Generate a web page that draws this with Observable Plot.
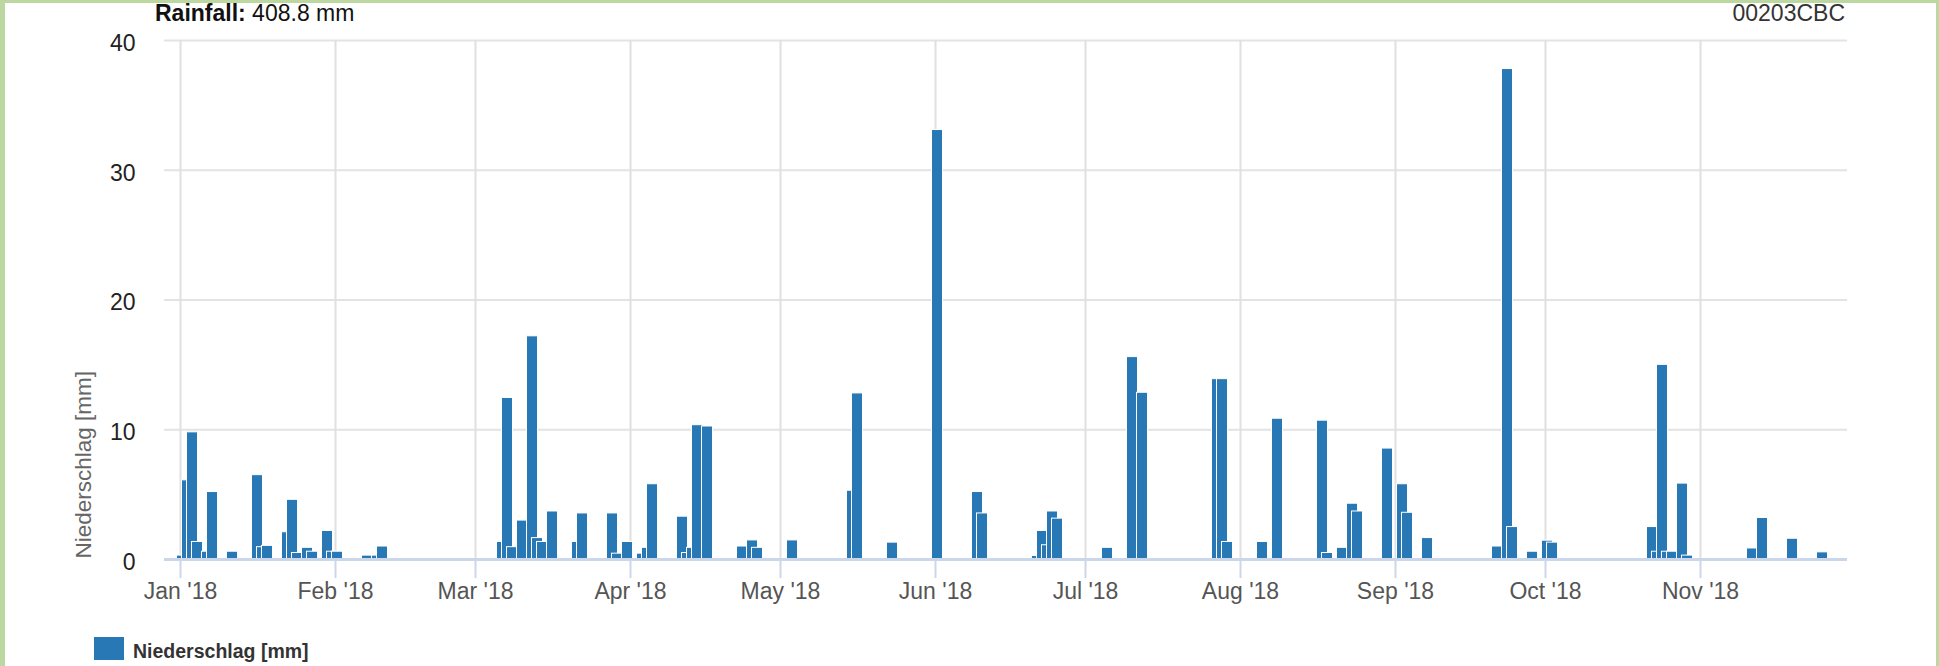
<!DOCTYPE html>
<html>
<head>
<meta charset="utf-8">
<script src="https://cdn.jsdelivr.net/npm/d3@7"></script>
<script src="https://cdn.jsdelivr.net/npm/@observablehq/plot@0.6"></script>
<style>
  html, body { margin: 0; padding: 0; background: #fff; overflow: hidden; }
  body { width: 1939px; height: 666px; position: relative; font-family: "Liberation Sans", Arial, sans-serif; }
  #header { position: relative; height: 26px; }
  #title { position: absolute; left: 155px; top: 0; line-height: 26px; font-size: 23px; color: #111; white-space: nowrap; }
  #station { position: absolute; right: 94px; top: 0; line-height: 26px; font-size: 23px; color: #333; white-space: nowrap; }
  #legend { position: absolute; left: 94px; top: 637px; height: 24px; }
  #legend .sw { position: absolute; left: 0; top: 0; width: 30px; height: 23px; }
  #legend .lb { position: absolute; left: 39px; top: 0; line-height: 28px; font-size: 19.5px; font-weight: bold; color: #333; white-space: nowrap; }
  .frame { position: absolute; background: #bcd8a0; }
</style>
</head>
<body>
<div id="header"><div id="title"><b>Rainfall:</b> 408.8 mm</div><div id="station">00203CBC</div></div>
<div id="chart"></div>
<div id="legend"><div class="sw"></div><div class="lb">Niederschlag [mm]</div></div>
<div class="frame" style="left:0;top:0;width:5px;height:666px"></div>
<div class="frame" style="left:0;top:0;width:1939px;height:3px"></div>
<div class="frame" style="right:0;top:0;width:3px;height:666px"></div>
<script>
// ---- data ----
const dates = [
  "2018-01-01","2018-01-02","2018-01-03","2018-01-04","2018-01-06","2018-01-07","2018-01-11",
  "2018-01-16","2018-01-17","2018-01-18","2018-01-22","2018-01-23","2018-01-24","2018-01-26",
  "2018-01-27","2018-01-30","2018-01-31","2018-02-01","2018-02-07","2018-02-09","2018-02-10",
  "2018-03-06","2018-03-07","2018-03-08","2018-03-10","2018-03-12","2018-03-13","2018-03-14",
  "2018-03-16","2018-03-21","2018-03-22","2018-03-28","2018-03-29","2018-03-31",
  "2018-04-03","2018-04-04","2018-04-05","2018-04-11","2018-04-12","2018-04-13","2018-04-14",
  "2018-04-16","2018-04-23","2018-04-25","2018-04-26",
  "2018-05-03","2018-05-15","2018-05-16","2018-05-23",
  "2018-06-01","2018-06-09","2018-06-10","2018-06-21","2018-06-22","2018-06-23","2018-06-24","2018-06-25",
  "2018-07-05","2018-07-10","2018-07-12","2018-07-27","2018-07-28","2018-07-29",
  "2018-08-05","2018-08-08","2018-08-17","2018-08-18","2018-08-21","2018-08-23","2018-08-24","2018-08-30",
  "2018-09-02","2018-09-03","2018-09-07","2018-09-21","2018-09-23","2018-09-24","2018-09-28",
  "2018-10-01","2018-10-02","2018-10-22","2018-10-23","2018-10-24","2018-10-25","2018-10-26",
  "2018-10-28","2018-10-29",
  "2018-11-11","2018-11-13","2018-11-19","2018-11-25"
];
const rainfall = [
  0.3, 6.1, 9.8, 1.35, 0.6, 5.2, 0.6,
  6.5, 0.95, 1.05, 2.1, 4.6, 0.5, 0.9,
  0.6, 2.2, 0.6, 0.6, 0.3, 0.3, 1.0,
  1.35, 12.45, 0.95, 3.0, 17.2, 1.65, 1.35,
  3.7, 1.35, 3.55, 3.55, 0.45, 1.35,
  0.45, 0.9, 5.8, 3.3, 0.5, 0.9, 10.35,
  10.25, 1.0, 1.47, 0.9,
  1.47, 5.3, 12.8, 1.3,
  33.1, 5.2, 3.55, 0.27, 2.2, 1.1, 3.7, 3.15,
  0.9, 15.6, 12.85, 13.9, 13.9, 1.35,
  1.35, 10.85, 10.7, 0.5, 0.9, 4.3, 3.7, 8.55,
  5.8, 3.6, 1.65, 1.0, 37.8, 2.5, 0.6,
  1.45, 1.3, 2.5, 0.6, 15.0, 0.6, 0.6,
  5.85, 0.3,
  0.85, 3.2, 1.6, 0.55
];
const monthTicks = ["2018-01-01","2018-02-01","2018-03-01","2018-04-01","2018-05-01","2018-06-01",
                    "2018-07-01","2018-08-01","2018-09-01","2018-10-01","2018-11-01"];
const monthLabels = ["Jan '18","Feb '18","Mar '18","Apr '18","May '18","Jun '18",
                     "Jul '18","Aug '18","Sep '18","Oct '18","Nov '18"];
const yTicks = [0, 10, 20, 30, 40];
const xDomain = ["2017-12-28T19:12Z", "2018-11-30T09:36Z"];
const seriesName = "Niederschlag [mm]";
const barColor = "#2878b5";

// ---- build ----
const DAY = 864e5;
const rows = dates.map((d, i) => ({t: new Date(d + "T00:00Z"), v: rainfall[i]}));
const ticks = monthTicks.map(d => new Date(d + "T00:00Z"));
const fmt = d => monthLabels[ticks.findIndex(t => +t === +d)];

const chart = Plot.plot({
  width: 1939,
  height: 574,
  marginLeft: 164,
  marginRight: 92,
  marginTop: 14,
  marginBottom: 41,
  style: {fontFamily: '"Liberation Sans", Arial, sans-serif', background: "transparent", overflow: "visible"},
  x: {type: "utc", domain: xDomain.map(s => new Date(s))},
  y: {domain: [0, 40]},
  marks: [
    Plot.gridY(yTicks, {stroke: "#e3e3e3", strokeOpacity: 1, strokeWidth: 2}),
    Plot.gridX(ticks, {stroke: "#e0e0e0", strokeOpacity: 1, strokeWidth: 2}),
    Plot.axisY(yTicks, {tickSize: 0, tickPadding: 29, fontSize: 23, fill: "#222", dy: 3, label: null}),
    Plot.axisX(ticks, {tickSize: 19, tickPadding: 4, stroke: "#ccd6eb", strokeWidth: 2, fill: "#555",
                       fontSize: 23, tickFormat: fmt, label: null}),
    Plot.rect(rows, {
      x1: d => new Date(+d.t - 0.7 * DAY),
      x2: d => new Date(+d.t + 1.5 * DAY),
      y1: 0, y2: "v",
      fill: barColor, stroke: "white", strokeWidth: 1
    }),
    Plot.ruleY([0], {stroke: "#ccd6eb", strokeWidth: 3}),
    Plot.text([seriesName], {frameAnchor: "bottom-left", dx: -81, dy: -1, rotate: -90,
                             textAnchor: "start", lineAnchor: "middle", fontSize: 22.5, fill: "#666"})
  ]
});
document.getElementById("chart").appendChild(chart);
document.querySelector("#legend .sw").style.background = barColor;
</script>
</body>
</html>
